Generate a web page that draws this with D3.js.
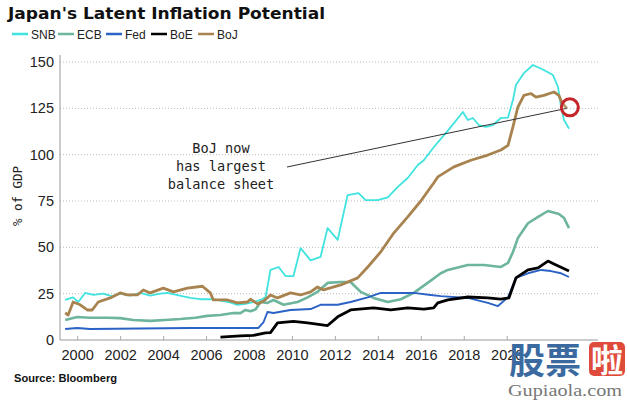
<!DOCTYPE html>
<html><head><meta charset="utf-8">
<script src="https://cdn.jsdelivr.net/npm/d3@7"></script>
<style>body{margin:0;background:#fff}svg{display:block}</style>
</head><body><svg id="c" width="627" height="401"></svg>
<script>
const yTicks = [0,25,50,75,100,125,150];
const xTicks = [2000,2002,2004,2006,2008,2010,2012,2014,2016,2018,2020];
const seriesNames = ["SNB","ECB","Fed","BoE","BoJ"];

const snbYears = [1999.44,1999.81,2000.05,2000.37,2000.75,2001.21,2001.63,2002.0,2002.47,2002.94,2003.4,2003.87,2004.2,2004.57,2004.94,2005.27,2005.74,2006.2,2006.53,2007.04,2007.46,2007.84,2008.2,2008.54,2008.77,2008.88,2009.0,2009.38,2009.7,2010.07,2010.4,2010.87,2011.33,2011.66,2012.13,2012.59,2013.1,2013.43,2013.99,2014.46,2014.93,2015.39,2015.86,2016.14,2016.6,2017.26,2017.96,2018.19,2018.42,2018.7,2019.03,2019.36,2019.73,2020.06,2020.29,2020.43,2020.8,2021.22,2021.73,2022.15,2022.39,2022.53,2022.67,2022.9];
const snbValues = [21.6,23,20.5,25.4,24.3,25,23.5,25,24,25.4,24,25,25.4,24.5,23.5,22.7,22,22,21.6,20.5,19,19.5,20.5,21.6,23,30,37.8,39.4,34.5,34.5,49.6,43,44.8,60.4,54,78.2,79.3,75.5,75.5,77,82.6,87.4,94.4,97,104,113,123,118.7,119.8,116,115,116,119.8,120,129.5,137.6,144,148.4,145.7,143,136.5,125.7,118.7,114];

const ecbYears = [1999.44,2000.0,2000.6,2001.4,2002.0,2002.61,2003.4,2004.1,2004.8,2005.5,2006.06,2006.67,2007.28,2007.6,2007.84,2008.07,2008.3,2008.54,2008.86,2009.14,2009.61,2010.26,2010.73,2011.19,2011.66,2012.27,2012.73,2013.2,2013.8,2014.46,2015.07,2015.67,2016.32,2016.93,2017.26,2018.19,2018.94,2019.73,2020.06,2020.29,2020.52,2020.99,2021.46,2021.92,2022.43,2022.67,2022.9];
const ecbValues = [10.8,12.4,12,12,11.8,10.8,10.3,10.8,11.3,12,13,13.5,14.6,14.5,16.2,15.5,16.5,20.5,20,21.6,19,20.5,23,26,30.8,31.3,31.3,26,22.7,20.5,22,25.4,30.8,36,37.8,40.5,40.5,39.4,41.6,47.5,55,63,66.4,69.6,68,65.8,60.4];

const fedYears = [1999.44,2000.0,2000.6,2002.94,2005.27,2008.2,2008.44,2008.68,2008.86,2009.14,2009.93,2010.87,2011.33,2012.13,2012.73,2013.53,2014.13,2014.74,2015.67,2016.46,2016.93,2018.19,2019.12,2019.59,2020.06,2020.43,2020.99,2021.6,2022.06,2022.53,2022.9];
const fedValues = [5.9,6.5,5.9,6.2,6.5,6.5,6.5,9.7,15.1,14.6,16.2,16.7,19,19,20.5,23,25.4,25.4,25.4,24.3,23.7,22.7,20,18.3,23,33.5,36,37.8,37.2,36,34];

const boeYears = [2006.67,2007.6,2008.2,2008.77,2009.0,2009.33,2010.07,2010.73,2011.66,2012.13,2012.73,2013.8,2014.6,2015.39,2016.14,2016.6,2016.79,2017.26,2018.19,2019.12,2019.73,2020.1,2020.43,2020.99,2021.46,2021.92,2022.2,2022.9];
const boeValues = [1.6,2.2,2.5,3.8,4,9.2,10,9.2,7.8,12.5,16.2,17.3,16.2,17.3,16.7,17.3,20,21.6,23.2,22.7,22.1,22.7,33.5,37.8,38.9,42.6,41,37.2];

const bojYears = [1999.44,1999.58,1999.81,2000.14,2000.47,2000.7,2000.98,2001.54,2002.0,2002.33,2002.8,2003.08,2003.4,2004.01,2004.48,2005.13,2005.83,2006.2,2006.34,2007.0,2007.46,2007.93,2008.07,2008.4,2008.68,2009.0,2009.33,2009.93,2010.4,2010.87,2011.19,2011.47,2012.27,2013.06,2013.53,2014.13,2014.74,2015.39,2016.0,2016.6,2016.79,2017.54,2018.33,2019.12,2019.73,2020.06,2020.29,2020.52,2020.8,2021.13,2021.36,2021.73,2022.2,2022.43,2022.57,2022.8];
const bojValues = [14.6,13.5,20.5,19,16.2,16.2,20.5,22.7,25.4,24.3,24.3,27,25.4,28,26,28,29,25.4,21.6,21.6,20,20.5,22,19.5,21,24.3,22.7,25.4,24.3,26,28.6,27,29.7,33.5,39.4,47.5,57.7,66.4,75,84.7,88,93.4,97,99.8,102.5,105,115,125.7,132,133,131,132,133.8,132,128,125];

const colors = {SNB:"#3fe3e0",ECB:"#6db59c",Fed:"#2a62c6",BoE:"#000000",BoJ:"#a8834f"};
const widths = {SNB:1.8,ECB:2.6,Fed:1.9,BoE:2.8,BoJ:2.8};
const data = {
  SNB: snbYears.map((t,i)=>({t, v:snbValues[i]})),
  ECB: ecbYears.map((t,i)=>({t, v:ecbValues[i]})),
  Fed: fedYears.map((t,i)=>({t, v:fedValues[i]})),
  BoE: boeYears.map((t,i)=>({t, v:boeValues[i]})),
  BoJ: bojYears.map((t,i)=>({t, v:bojValues[i]}))
};

const svg = d3.select("#c");
const x = d3.scaleLinear().domain([1999.2, 2024.25]).range([60, 598]);
const y = d3.scaleLinear().domain([0, 150]).range([340, 62]);

// title
svg.append("text").attr("x",8).attr("y",19).text("Japan's Latent Inflation Potential")
  .attr("font-family","DejaVu Sans").attr("font-weight","bold").attr("font-size",16)
  .attr("textLength",317).attr("lengthAdjust","spacingAndGlyphs").attr("fill","#111");

// legend
const legX = [12,58,106,151,198];
seriesNames.forEach((n,i)=>{
  svg.append("line").attr("x1",legX[i]).attr("x2",legX[i]+16).attr("y1",34).attr("y2",34)
    .attr("stroke",colors[n]).attr("stroke-width",2.5);
  svg.append("text").attr("x",legX[i]+19).attr("y",38.5).text(n)
    .attr("font-family","Liberation Sans Narrow, Liberation Sans").attr("font-size",12).attr("fill","#222");
});

// gridlines
svg.append("g").selectAll("line").data(yTicks.filter(d=>d>0)).join("line")
  .attr("x1",60).attr("x2",598).attr("y1",d=>y(d)).attr("y2",d=>y(d))
  .attr("stroke","#bbb").attr("stroke-width",1).attr("stroke-dasharray","1,2");

// y axis
const ya = svg.append("g").attr("transform","translate(60,0)")
  .call(d3.axisLeft(y).tickValues(yTicks).tickSize(0).tickPadding(6));
ya.select(".domain").attr("stroke","#999").attr("d","M0,55V340");
ya.selectAll("text").attr("font-family","Liberation Sans").attr("font-size",14.5).attr("fill","#222");

// x axis
const xa = svg.append("g").attr("transform","translate(0,340)")
  .call(d3.axisBottom(x).tickValues(xTicks).tickFormat(d3.format("d")).tickSize(-4).tickPadding(10));
xa.select(".domain").attr("stroke","#999").attr("d","M60,0H598");
xa.selectAll(".tick line").attr("stroke","#aaa");
xa.selectAll("text").attr("font-family","Liberation Sans").attr("font-size",14.5).attr("fill","#222");

// y label
svg.append("text").attr("transform","translate(22,196) rotate(-90)").attr("text-anchor","middle")
  .text("% of GDP").attr("font-family","DejaVu Sans Mono").attr("font-size",12.5).attr("fill","#222");

// lines
const line = d3.line().x(d=>x(d.t)).y(d=>y(d.v));
["ECB","Fed","SNB","BoJ","BoE"].forEach(n=>{
  svg.append("path").datum(data[n]).attr("d",line).attr("fill","none")
    .attr("stroke",colors[n]).attr("stroke-width",widths[n]).attr("stroke-linejoin","round");
});

// annotation
const ann = ["BoJ now","has largest","balance sheet"];
ann.forEach((s,i)=>{
  svg.append("text").attr("x",221).attr("y",153+i*18).attr("text-anchor","middle").text(s)
    .attr("font-family","DejaVu Sans Mono").attr("font-size",13.6).attr("fill","#222");
});
const lastBoJ = data.BoJ[data.BoJ.length-1];
svg.append("line").attr("x1",287).attr("y1",167).attr("x2",x(lastBoJ.t)).attr("y2",y(lastBoJ.v))
  .attr("stroke","#333").attr("stroke-width",1);
svg.append("circle").attr("cx",x(lastBoJ.t)+3).attr("cy",y(lastBoJ.v)-1).attr("r",8.5)
  .attr("fill","rgba(255,255,255,0.15)").attr("stroke","#c4262b").attr("stroke-width",3);

// source
svg.append("text").attr("x",14).attr("y",382).text("Source: Bloomberg")
  .attr("font-family","Liberation Sans Narrow, Liberation Sans").attr("font-weight","bold").attr("font-size",11)
  .attr("textLength",103).attr("lengthAdjust","spacingAndGlyphs").attr("fill","#111");

// watermark
const wm = svg.append("g");
wm.append("text").attr("x",509).attr("y",374).text("股票")
  .attr("font-family","Noto Sans CJK SC").attr("font-weight","bold").attr("font-size",36).attr("fill","#3b6aa0");
wm.append("rect").attr("x",589).attr("y",342).attr("width",36).attr("height",34).attr("rx",5).attr("fill","#df4b3b");
wm.append("text").attr("x",607).attr("y",372).attr("text-anchor","middle").text("啦")
  .attr("font-family","Noto Sans CJK SC").attr("font-weight","bold").attr("font-size",32).attr("fill","#fff");
wm.append("text").attr("x",508).attr("y",396).text("Gupiaola.com")
  .attr("font-family","Liberation Serif").attr("font-size",16).attr("fill","#777")
  .attr("textLength",114).attr("lengthAdjust","spacingAndGlyphs");
</script></body></html>
